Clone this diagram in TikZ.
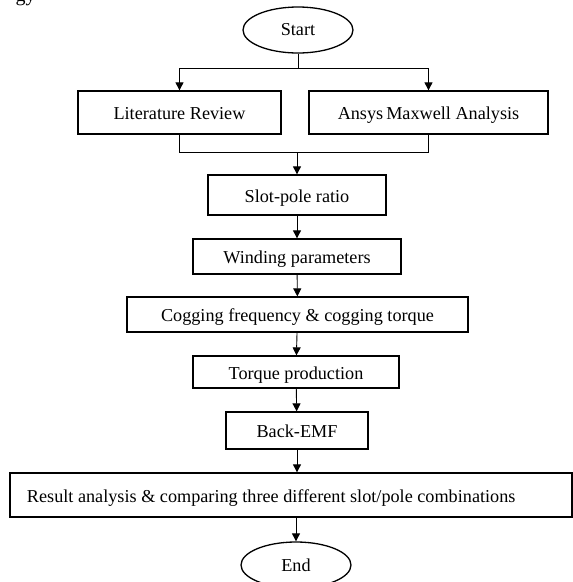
\documentclass[tikz,border=0pt]{standalone}
\usepackage{fontspec}
\setmainfont{Liberation Serif}
\usetikzlibrary{arrows.meta,shapes.geometric}
\begin{document}
\begin{tikzpicture}[x=1pt,y=-1pt,
  font=\fontsize{18.2}{22}\selectfont,
  box/.style={draw,line width=1.3pt,rectangle,inner sep=0pt,align=center,text height=15pt,text depth=1pt},
  oval/.style={draw,line width=1.3pt,ellipse,inner sep=0pt,minimum width=110pt,minimum height=46pt},
  conn/.style={line width=0.9pt},
  arr/.style={conn,-{Triangle[length=8pt,width=8pt]}}]
\useasboundingbox (0,0) rectangle (573,582);
\node[anchor=base west,font=\fontsize{20}{24}\selectfont] (frag) at (12,1.5) {gy};
\node[oval] (start) at (298,30) {Start};
\node[box,minimum width=203pt,minimum height=43pt] (lit) at (179.5,112.5) {Literature Review};
\node[box,minimum width=239pt,minimum height=43pt] (ansys) at (428.5,112.5) {Ansys\,Maxwell Analysis};
\node[box,minimum width=178pt,minimum height=40pt] (slot) at (297,195) {Slot-pole ratio};
\node[box,minimum width=208pt,minimum height=35pt] (wind) at (297,256.5) {Winding parameters};
\node[box,minimum width=341pt,minimum height=35pt] (cog) at (297.5,314.5) {Cogging frequency \& cogging torque};
\node[box,minimum width=206pt,minimum height=32pt] (torq) at (296,372) {Torque production};
\node[box,minimum width=142pt,minimum height=37pt] (emf) at (297,430.5) {Back-EMF};
\node[box,minimum width=562pt,minimum height=44pt,inner xsep=17pt,text width=528pt,align=flush left] (res) at (291,495) {Result analysis \& comparing three different slot/pole combinations};
\node[oval] (end) at (296,565) {End};
\coordinate (split) at (298,68);
\coordinate (join) at (297,152);
\draw[conn] (start) -- (split);
\draw[arr] (split) -| (lit.north);
\draw[arr] (split) -| (ansys.north);
\draw[conn] (lit.south) |- (join);
\draw[conn] (ansys.south) |- (join);
\draw[arr] (join) -- (slot.north);
\draw[arr] (slot) -- (wind);
\draw[arr] (wind) -- (cog);
\draw[arr] (cog) -- (torq);
\draw[arr] (torq) -- (emf);
\draw[arr] (emf) -- (emf |- res.north);
\draw[arr] (res.south -| end) -- (end);
\end{tikzpicture}
\end{document}
